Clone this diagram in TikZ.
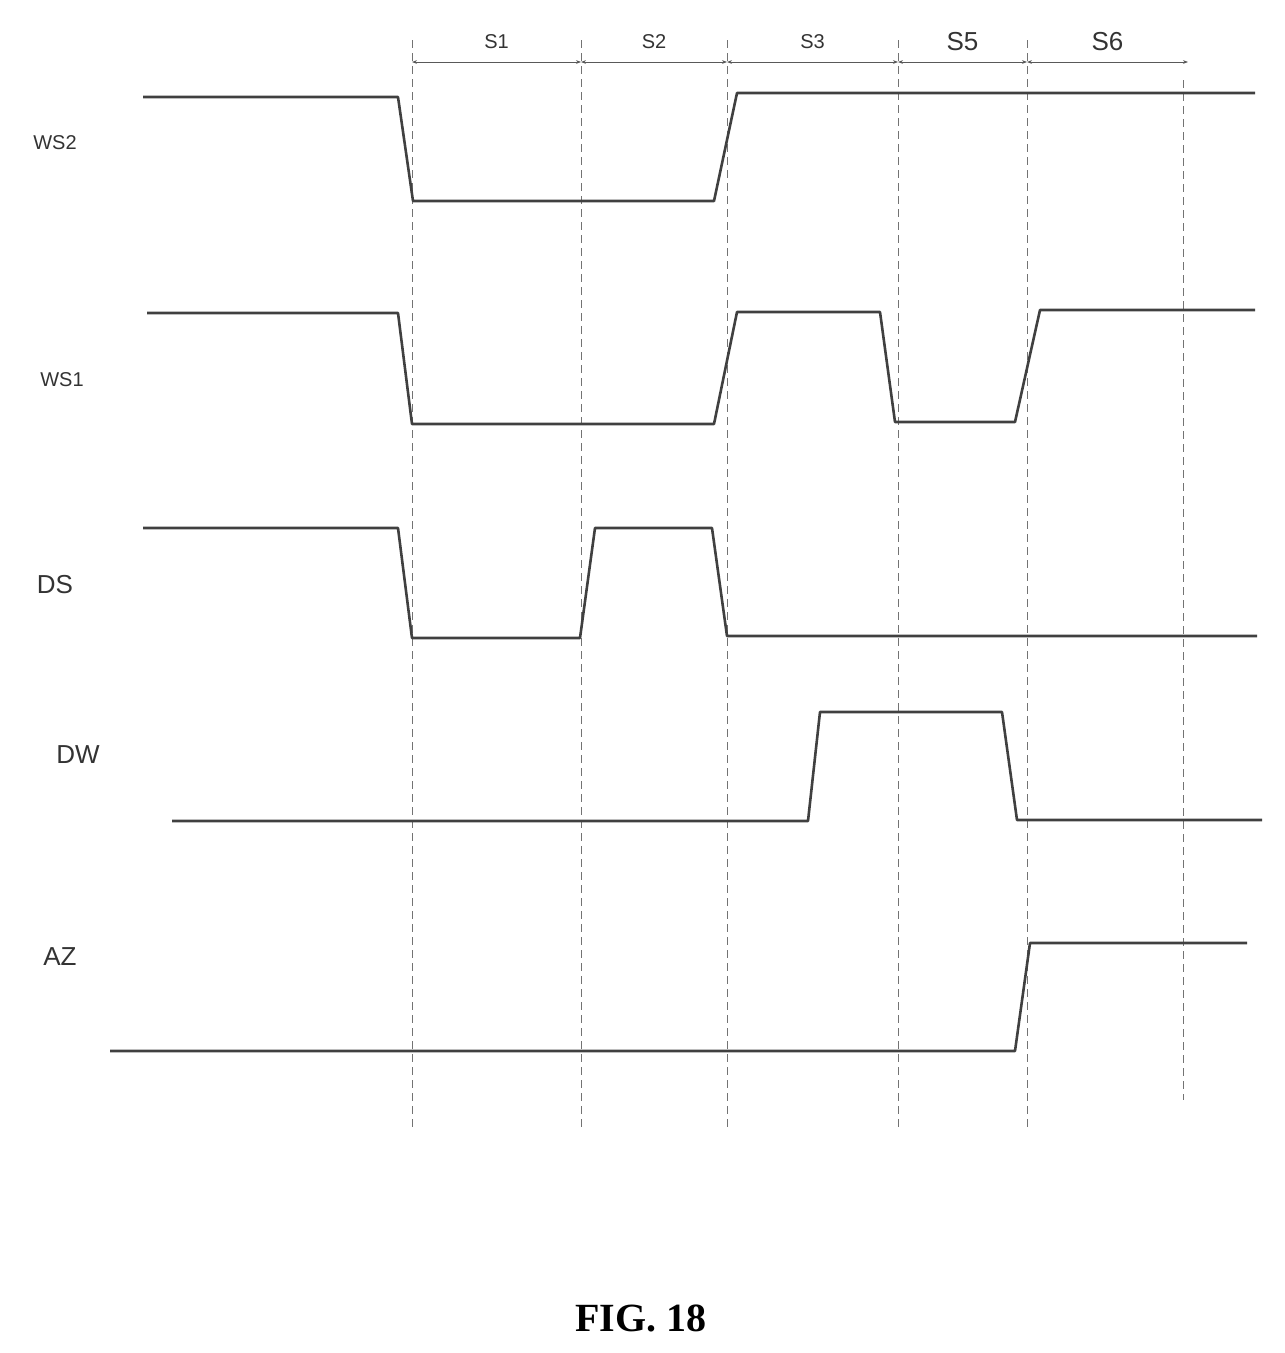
\documentclass[tikz,border=0pt]{standalone}
\usepackage{fontspec}
\setmainfont{Liberation Serif}
\newfontfamily\lab{Liberation Sans}
\usetikzlibrary{arrows.meta}
\begin{document}
\begin{tikzpicture}[x=1pt,y=-1pt,
  sig/.style={line width=2.6pt,color=black!75,line join=round},
  grid/.style={dashed,line width=0.8pt,color=black!55,dash pattern=on 8pt off 5pt},
  dim/.style={{Stealth[length=5pt]}-{Stealth[length=5pt]},line width=0.8pt,color=black!65},
  lbl/.style={font=\lab\fontsize{26}{26}\selectfont,color=black!80},
  slbl/.style={font=\lab\fontsize{20}{20}\selectfont,color=black!80}]
\useasboundingbox (0,0) rectangle (1285,1353);
\foreach \x/\n in {412/a,581/b,727/c,898/d,1027/e}{
  \coordinate (t\n) at (\x,40); \coordinate (b\n) at (\x,1130);
  \draw[grid] (t\n) -- (b\n);}
\coordinate (tf) at (1183,80); \coordinate (bf) at (1183,1100);
\draw[grid] (tf) -- (bf);
\foreach \a/\b/\t/\s in {412/581/S1/slbl,581/727/S2/slbl,727/898/S3/slbl,898/1027/S5/lbl,1027/1188/S6/lbl}{
  \coordinate (l) at (\a,62); \coordinate (r) at (\b,62);
  \draw[dim] (l) -- (r);
  \node[\s] at ({(\a+\b)/2},42) {\t};}
\node[slbl] (ws2) at (55,143) {WS2};
\node[slbl] (ws1) at (62,380) {WS1};
\node[lbl] (ds) at (55,585) {DS};
\node[lbl] (dw) at (78,755) {DW};
\node[lbl] (az) at (60,957) {AZ};
\draw[sig] (143,97) -- (398,97) -- (413,201) -- (714,201) -- (737,93) -- (1255,93);
\draw[sig] (147,313) -- (398,313) -- (412,424) -- (714,424) -- (737,312) -- (880,312) -- (895,422) -- (1015,422) -- (1040,310) -- (1255,310);
\draw[sig] (143,528) -- (398,528) -- (412,638) -- (580,638) -- (595,528) -- (712,528) -- (727,636) -- (1257,636);
\draw[sig] (172,821) -- (808,821) -- (820,712) -- (1002,712) -- (1017,820) -- (1262,820);
\draw[sig] (110,1051) -- (1015,1051) -- (1030,943) -- (1247,943);
\node[font=\bfseries\fontsize{40}{40}\selectfont] (fig) at (641,1318) {FIG. 18};
\end{tikzpicture}
\end{document}
